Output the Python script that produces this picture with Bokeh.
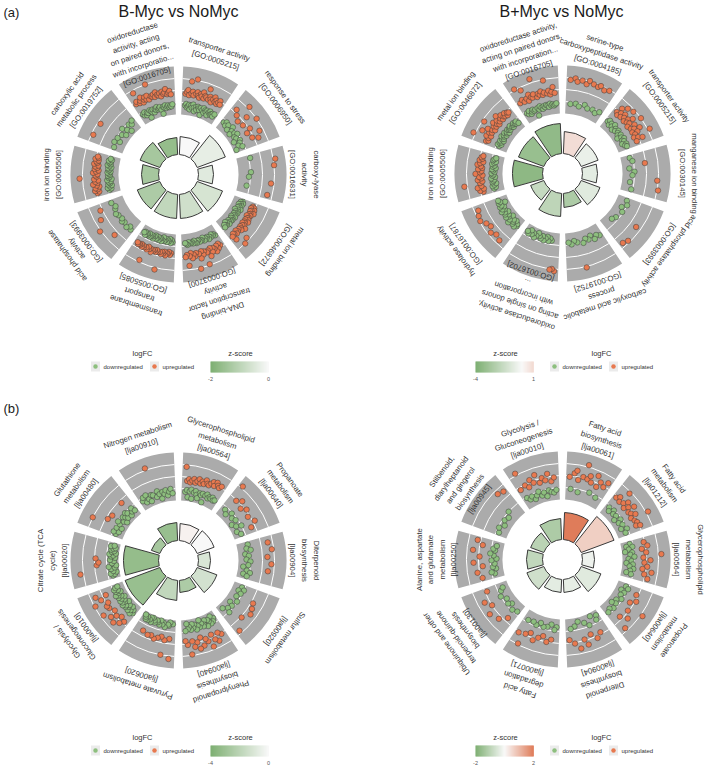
import math
from bokeh.plotting import figure
from bokeh.models import Range1d
from bokeh.embed import file_html
from bokeh.resources import INLINE
from bokeh.core.properties import value

# ---------------- data ----------------
A1_TERMS = ["transporter activity\n[GO:0005215]", "response to stress\n[GO:0006950]",
            "carboxy-lyase\nactivity\n[GO:0016831]", "metal ion binding\n[GO:0046872]",
            "DNA-binding\ntranscription factor\nactivity\n[GO:0003700]",
            "transmembrane\ntransport\n[GO:0055085]", "acid phosphatase\nactivity\n[GO:0003993]",
            "iron ion binding\n[GO:0005506]", "carboxylic acid\nmetabolic process\n[GO:0019752]",
            "oxidoreductase\nactivity, acting\non paired donors,\nwith incorporatio...\n[GO:0016705]"]
A1_Z = [0.0, -0.25, -0.35, -0.5, -0.6, -0.8, -1.1, -1.2, -1.2, -1.45]
A1_SIG = [9, 15, 7.5, 13.5, 12, 12, 12, 8.5, 10.5, 8.5]
A1_LFC = [
    [1.2, -1.1, 1.6, -0.8, 2.0, -1.5, 1.0, -1.2, 3.8, -0.9, 1.4, -1.8, 1.8, -1.0, 1.1, -1.4, 4.4, -0.7, 1.5, -1.3, 1.9, -2.0, 1.2, -1.1, 0.9, -1.6, 1.7, -0.9, 1.3, -1.2, 2.2, -1.5, 1.0, -1.0, 1.6, -2.4, 1.4, -1.3, 3.2, -0.8, 1.1, -1.7, 1.8, -1.1, 1.3, -1.4, 0.8, -1.0, 1.5, -1.9, 2.1, -1.2, 1.2, -0.9, 1.6, -1.5, 1.0, -1.3, 1.4, -1.1, 1.9, -1.6, 1.2, -1.0],
    [-1.2, 2.4, -0.8, -1.5, 1.6, -1.0, 4.6, -1.8, 0.9, -0.6, 2.8, -1.3, -2.0, 1.2, -1.1, 4.2, -0.7, -1.6, 2.0, -1.4, 1.0, -2.2, -0.9, 3.4, -1.2, 1.5, -1.7, 2.6, -1.0, -2.4],
    [-0.3, 4.6, 4.2, -0.5, -0.9, 3.6, -1.2, 3.2],
    [-1.0, 1.2, -1.4, 1.6, -0.8, 1.0, -1.2, 1.8, -1.6, 1.3, -0.9, 1.1, -1.3, 2.0, -1.1, 1.4, -1.5, 1.2, -0.7, 1.6, -1.2, 0.9, -1.8, 1.5, -1.0, 1.3, -1.4, 1.7, -0.9, 1.1, -1.2, 1.9, -1.5, 1.2, -1.0, 1.4, -1.3, 1.0, -0.8, 1.6, -1.6, 1.3, -1.1, 2.2, -1.4, 1.1, -0.9, 1.5, -1.2, 1.8, -1.0, 1.2, -1.5, 3.6, -1.1, 1.4, -0.8, 1.0, -1.3, 1.6, -1.7, 4.2, -1.0, 1.3, -1.2, 1.1, -1.4, 2.4, -0.9, 1.5],
    [-0.8, 1.4, -1.2, 0.9, -1.0, 1.8, -1.4, 1.1, -0.9, 2.2, -1.1, 1.5, -0.7, 1.2, -1.3, 1.9, -1.0, 1.0, -1.2, 2.6, -0.8, 1.3, -1.5, 1.6, -1.0, 4.0, -1.1, 1.2, -0.9, 1.8, -1.3, 1.0, -1.2, 2.4, -0.8, 1.4, -1.0, 4.4, -1.4, 1.1, -0.9, 1.7, -1.2, 1.3, -1.0, 2.0, -1.1, 0.9, -1.3, 1.5, -0.8, 3.4, -1.0, 1.2, -1.2, 1.6],
    [-1.4, 0.8, -1.8, 1.2, -1.2, 0.6, -2.0, 1.0, -1.5, 0.9, -1.7, 1.4, -1.3, 0.7, -1.9, 1.1, -1.6, 0.8, -1.4, 1.3, -2.1, 0.9, -1.5, 4.6, -1.2, 1.0, -1.8, 0.7, -1.6, 1.2, -1.3, 0.8, -1.9, 1.1, -1.5, 0.9, -1.4, 1.5, -2.0, 0.8, -1.7, 1.0, -1.2, 0.6, -1.6, 1.3, -1.8, 0.9, -1.5, 3.8, -1.3, 1.1, -1.9, 0.8, -1.4, 1.2, -1.7, 0.7, -1.5, 1.0, -1.2, 0.9, -1.8, 1.1, -1.6, 0.8],
    [-0.4, -0.8, -0.2, 2.6, -0.6, -0.3, -0.7, 4.4, -0.5, -0.2, 3.0, -0.6, -0.9, 2.2, -0.4],
    [1.6, -0.9, 1.2, -1.3, 2.0, -0.6, 1.4, -1.1, 1.8, -1.5, 1.0, -0.8, 1.5, -1.2, 2.2, -1.0, 1.3, -1.4, 1.7, -0.7, 1.1, -1.6, 1.9, -1.0, 4.8, -1.2, 1.4, -0.9, 1.6, -1.3, 1.2, -1.1, 2.1, -0.8, 1.5, -1.4, 1.0, -1.0, 1.8, -1.2, 1.3, -0.9, 1.7, -1.5, 1.1, -1.1, 2.0, -0.7, 1.4, -1.3, 1.6, -1.0, 1.2, -1.2, 1.9, -0.8, 1.3, -1.4, 1.5, -1.1],
    [-1.0, 3.8, -0.6, -1.6, -0.8, 3.6, -1.2, -1.9, -0.5, -1.4, -2.2, -0.9, -1.3, -0.7],
    [1.4, -1.0, 1.8, -1.4, 3.6, -0.8, 1.2, -1.6, 1.6, -1.1, 2.2, -1.3, 1.0, -2.4, 1.5, -0.9, 1.9, -1.2, 1.3, -1.5, 2.0, -1.0, 1.1, -1.7, 4.2, -1.1, 1.6, -1.3, 1.4, -0.8, 1.8, -1.4, 1.2, -1.2, 2.1, -1.0, 1.5, -1.6, 1.3, -2.6, 1.7, -1.1, 1.0, -1.3, 1.9, -0.9, 1.4, -1.5, 1.6, -1.2, 2.3, -1.0, 1.2, -1.4, 1.5, -1.1, 1.8, -1.3, 1.1, -0.9],
]

A2_TERMS = ["serine-type\ncarboxypeptidase activity\n[GO:0004185]", "transporter activity\n[GO:0005215]",
            "manganese ion binding\n[GO:0030145]", "acid phosphatase activity\n[GO:0003993]",
            "carboxylic acid metabolic\nprocess\n[GO:0019752]",
            "oxidoreductase activity,\nacting on single donors\nwith incorporation\n...\n[GO:0016702]",
            "hydrolase activity\n[GO:0016787]", "iron ion binding\n[GO:0005506]",
            "metal ion binding\n[GO:0046872]",
            "oxidoreductase activity,\nacting on paired donors,\nwith incorporation...\n[GO:0016705]"]
A2_Z = [0.8, -0.4, -0.6, -0.7, -2.2, -1.7, -1.5, -3.1, -2.8, -3.0]
A2_SIG = [11, 9, 7.5, 10, 7, 11.5, 7, 15, 13.5, 15]
A2_LFC = [
    [3.8, -1.0, 4.2, 3.6, -0.8, 4.0, -1.2, 3.5, 4.3, -0.6, 3.9, -1.1, 3.7, 4.1, -0.9, 3.6, -1.3, 4.0, -0.7],
    [-1.2, 1.4, -0.8, 2.6, 1.0, -1.6, 1.8, -1.0, 3.4, 1.2, -1.4, 2.2, -0.7, 1.6, -1.8, 3.8, 1.1, -1.1, 2.0, -1.5, 1.4, 2.8, -0.9, 1.7, -1.3, 1.0, 4.2, -1.6, 2.4, -1.0, 1.3, -2.0, 1.9, -1.2, 3.0, 1.2, -0.8, 2.2, -1.4, 1.5, -1.1, 4.6, 1.0, -1.7, 1.8, -0.9, 2.6, -1.3, 1.2, -1.0],
    [-1.2, -0.8, 1.6, -1.6, -0.6, -1.0, 4.0, -1.4, 4.4, -0.9],
    [-1.0, -0.6, -1.4, -0.8, 3.2, -1.2, -1.6, 3.8, 3.4],
    [-0.6, -1.0, -0.4, -1.4, -0.8, -1.2, -0.5, 4.4, -0.9, -1.3, -0.7, -1.1],
    [4.6, 4.2, 4.4, -1.4, -1.8, -1.2, -2.0, -1.6, -1.1, -1.9, -1.3, -1.7, -2.2, -1.5, -1.0, -1.8, -1.4, -2.1, -1.2, -1.6],
    [-1.0, -1.4, -0.6, 3.4, -1.8, -0.8, -1.2, -1.6, 3.0, -0.4, -1.0, -2.0, 3.6, -1.2, -0.7, -1.5, 2.8, -0.9, -1.8, -1.1, 3.2, -0.6, -1.4, -1.0, 4.0, -1.6, -0.8, -1.2, 3.8, -2.2, -0.9, -1.3, 3.4, -1.0],
    [1.2, -1.0, 1.8, -1.4, 1.0, -0.8, 2.2, -1.2, 1.4, -1.6, 4.8, -0.9, 1.6, -1.1, 1.1, -1.3, 2.0, -0.7, 1.3, -1.5, 1.7, -1.0, 1.0, -1.2, 2.4, -0.8, 1.5, -1.4, 1.2, -1.1, 1.9, -0.9, 1.1, -1.6, 1.4, -1.0, 2.1, -1.3, 1.6, -0.8, 1.0, -1.2, 1.8, -1.5, 1.3, -0.9, 1.5, -1.1, 1.2, -1.4],
    [1.6, -1.2, 1.2, -0.8, 4.6, -1.5, 1.4, -1.0, 2.0, -1.3, 1.1, -0.9, 3.2, -1.6, 1.8, -1.1, 1.3, -1.4, 2.4, -0.7, 1.5, -1.2, 1.0, -1.0, 3.8, -1.5, 1.7, -0.8, 1.2, -1.3, 2.2, -1.1, 1.4, -1.6, 1.0, -0.9, 1.9, -1.2, 1.3, -1.4, 2.6, -1.0, 1.6, -0.8, 1.1, -1.3, 2.0, -1.5, 1.4, -1.1, 1.2, -0.9, 1.8, -1.2, 1.0, -1.4, 1.5, -1.0, 1.3, -1.6],
    [1.4, -1.0, 4.4, -1.4, 1.8, -0.8, 1.2, -1.6, 3.6, -1.2, 1.6, -0.9, 1.0, -1.3, 2.2, -1.1, 1.5, -2.6, 1.3, -1.0, 1.9, -1.4, 5.0, -0.8, 1.1, -1.2, 1.7, -1.5, 1.4, -1.0, 2.0, -1.3, 1.2, -0.9, 1.6, -1.1, 4.0, -1.4, 1.3, -0.8, 1.8, -1.2, 1.0, -1.0, 1.5, -1.3, 2.4, -1.1, 1.2, -0.9],
]

B1_TERMS = ["Glycerophospholipid\nmetabolism\n[lja00564]", "Propanoate\nmetabolism\n[lja00640]",
            "Diterpenoid\nbiosynthesis\n[lja00904]", "Sulfur metabolism\n[lja00920]",
            "Phenylpropanoid\nbiosynthesis\n[lja00940]", "Pyruvate metabolism\n[lja00620]",
            "Glycolysis /\nGluconeogenesis\n[lja00010]", "Citrate cycle (TCA\ncycle)\n[lja00020]",
            "Glutathione\nmetabolism\n[lja00480]", "Nitrogen metabolism\n[lja00910]"]
B1_Z = [0.2, 0.0, -0.9, -1.1, -2.2, -1.6, -2.8, -2.9, -2.4, -2.8]
B1_SIG = [8.5, 9, 6, 10.5, 6, 10, 18.5, 17.5, 4.5, 9]
B1_LFC = [
    [3.8, -1.2, 1.0, -0.8, 1.4, -2.2, 0.8, -1.0, 1.2, -0.6, 1.6, -2.4, 0.9, -1.1, 1.3, -0.7, 1.8, -1.4, 1.0, -2.0, 1.5, -0.9, 1.1, -1.2, 2.0, -0.8, 1.4, -2.5, 1.2, -1.0, 1.7, -0.6, 2.2, -1.3, 1.5, -0.9, 2.4, -1.1, 1.9, -0.7, 1.6, -1.2, 2.1, -1.0],
    [4.6, -1.2, 1.6, -1.8, 2.4, -0.8, 1.2, -1.4, 2.0, -1.0, -2.2, 1.4, -1.6, -0.6, 2.2, -2.0, 1.0, -1.4],
    [-0.8, 3.2, -1.2, -0.4, 3.8, -1.6, -0.9, 2.8, -1.4, -0.6, 3.6, -1.0, -2.0, 3.0, -1.2, -0.5, -1.8, -1.0],
    [-1.2, -0.6, -1.6, -0.9, 2.2, -1.4, 2.6, -0.7, 3.0, -1.8, -1.0, 2.0, -1.3, -0.5, -2.0, 3.6],
    [-1.6, 2.0, -1.0, -2.2, 1.4, -0.8, 3.0, -1.4, -1.8, 2.4, -0.6, 1.2, -2.0, 3.6, -1.2, -0.9, 2.2, -1.6, 1.6, -2.4, -1.0, 2.8, -1.4, 1.0, -0.7, 3.2, -1.8, 1.8, -1.2, -2.0, 2.6, -0.9, 1.4, -1.5, 4.0, -1.1, -2.2, 2.0, -0.8, 1.2],
    [-2.2, 4.8, 0.8, -2.6, -1.8, -2.0, 1.2, 4.2, -1.4, 0.6, -2.2, -1.8, 1.0, -2.6, -1.6, 1.4, -2.0, -2.3, 0.9, -1.7, -2.1, 1.1, -2.5, -1.5, -2.4, -1.9, 0.7, -1.6, -2.2, -1.6, -2.0, -2.4],
    [-1.0, 1.4, -1.6, -0.6, 2.2, -1.2, -2.0, 1.0, -0.8, 3.0, -1.4, -1.8, 1.6, -0.9, -1.2, 2.6, -2.2, -0.7, 1.2, -1.5, -1.0, 3.6, -1.7, -0.8, 1.8, -1.3, -2.1, 2.0, -0.9, -1.6, 1.4, -1.1, -0.6, 4.0, -1.4, -1.9, 2.4, -1.0, -1.5, 1.1, -0.8, 3.2, -1.2, -1.7],
    [-1.6, -2.0, -1.2, -2.4, -1.8, 4.8, -1.4, -2.2, -1.0, -2.6, 1.4, -1.7, 1.0, -2.1, -1.3, 1.6, -2.3, -1.5, -1.9, -1.1, -2.4, -1.6, -2.0, -1.4, -1.8, -2.2, -1.2, -1.9],
    [-1.4, -0.8, -1.8, 4.2, -1.0, -2.0, 1.4, -1.2, -0.6, 1.0, -1.6, -2.2, -0.9, -1.3, -1.8, -0.7, -1.1, -2.0, 1.2, -1.5, -0.9, -1.7],
    [-1.2, -0.6, -1.8, -0.4, -1.4, -2.0, -0.8, -1.0, 4.6, -1.6, -0.5, -1.2, -2.2, -0.9, -1.4, -0.7, -1.8, -1.1, -0.6, -1.5],
]

B2_TERMS = ["Fatty acid\nbiosynthesis\n[lja00061]", "Fatty acid\nmetabolism\n[lja01212]",
            "Glycerophospholipid\nmetabolism\n[lja00564]", "Propanoate\nmetabolism\n[lja00640]",
            "Diterpenoid\nbiosynthesis\n[lja00904]", "Fatty acid\ndegradation\n[lja00071]",
            "Ubiquinone and other\nterpenoid-quinone\nbiosynthesis\n[lja00130]",
            "Alanine, aspartate\nand glutamate\nmetabolism\n[lja00250]",
            "Stilbenoid,\ndiarylheptanoid\nand gingerol\nbiosynthesis\n[lja00945]",
            "Glycolysis /\nGluconeogenesis\n[lja00010]"]
B2_Z = [1.8, 0.6, -0.15, -0.35, -0.25, -0.3, -0.6, -0.8, -0.9, -1.1]
B2_SIG = [13.5, 17.5, 6, 10.5, 6.5, 6.5, 9, 8, 7, 10.5]
B2_LFC = [
    [1.6, -0.8, 2.4, 3.0, 1.2, -1.2, 2.0, 4.6, 1.8, 2.6, 1.4, -0.6, 3.2, 1.0, 2.2, -1.0, 1.6, 2.8],
    [1.4, -1.0, 2.0, -1.6, 1.2, 3.8, -0.8, 1.6, -1.4, 2.4, 1.0, -1.2, 1.8, -2.0, 2.8, 1.2, -0.9, 1.5, -1.6, 2.2, 1.0, -1.1, 4.6, 1.4, -1.8, 1.7, -0.7, 1.2, 2.0, -1.3],
    [-1.2, 1.6, -2.0, -0.8, 2.2, -1.6, 1.0, -2.4, -1.0, 1.8, -1.4, 4.8, -0.6, 1.2, -1.8, 2.6, -1.2, 1.4, -2.2, -0.9, 2.0, -1.5, 1.1, -0.7, 3.0, -1.3, 1.6, -2.0, -1.0, 2.4],
    [-1.2, -0.6, 1.4, -1.8, -1.0, 2.0, -1.4, 1.0, -0.8, 4.6, -1.6, 1.6, -1.2, -2.0, 2.6, -0.9, 1.2, -1.4, 3.6, -1.0],
    [-2.0, -1.2, 1.4, -2.4, 2.2, -0.8, 1.0, -1.6, 2.8, 1.6, -2.2, 3.2, -1.4, 2.0, -1.0, 1.2],
    [-1.4, -0.8, 1.2, -1.8, 1.8, -1.2, 0.8, -1.0, 1.4, -1.6, 2.2, -0.9, 1.0, -1.3, 1.6, 4.0, -1.1, 2.0],
    [-1.2, 1.0, -0.8, 2.4, -1.6, -1.0, 3.2, -1.4, 1.8, -0.6, 2.8, -1.2, -1.8, 1.4],
    [1.4, -1.2, -0.6, 2.2, -1.6, -1.0, 1.0, -1.4, 2.8, -0.8, -1.8, 1.6, -1.2, -0.5, 3.0, -1.4, -1.0, 1.2, -1.6, 2.4],
    [-1.2, -0.8, -1.6, -1.0, -1.4, -0.6, 3.4, 3.0],
    [1.2, -0.8, 4.6, -1.4, 1.6, -1.0, 0.9, -1.8, 2.2, -1.2, 1.4, -0.6, 2.8, -1.6, 1.0, -1.1, 1.8, -2.0, 1.2, -0.9, 2.4, -1.3, 0.8, -1.5, 1.5, -1.0],
]

PANEL_TITLES = ["B-Myc vs NoMyc", "B+Myc vs NoMyc"]
ZLIMS = [(-2, 0), (-4, 1), (-4, 0), (-2, 2)]
ZSCALE = [2, 4, 4, 2]

# ---------------- styling / layout ----------------
W, H = 709, 766
FONT = value("Liberation Sans")
GRAY = "#ababab"
UP_COL = "#e8794f"
DOWN_COL = "#8dbf7e"
LOW = (0x6f, 0xa6, 0x62)
MID = (0xf8, 0xf8, 0xf8)
HIGH = (0xdc, 0x6e, 0x48)

R_HOLE, R_IN, R_OUT, R_LAB, LINE_H = 20.0, 60.0, 108.0, 126.0, 11.6
HALF = math.radians(15.5)
SPREAD = math.radians(13.0)


def X(x):
    return x


def Y(y):
    return H - y


def zcolor(z, m):
    t = max(-1.0, min(1.0, z / m))
    end = LOW if t < 0 else HIGH
    t = abs(t)
    return "#%02x%02x%02x" % tuple(int(round(MID[i] + (end[i] - MID[i]) * t)) for i in range(3))


def lfc_radius(v):
    return max(R_IN + 2.5, min(R_OUT - 2.5, 75.0 + 5.0 * v))


p = figure(width=W, height=H, x_range=Range1d(0, W), y_range=Range1d(0, H),
           output_backend="svg", toolbar_location=None, min_border=0,
           x_axis_location=None, y_axis_location=None)
p.grid.visible = False
p.outline_line_color = None

panels = [
    dict(terms=A1_TERMS, z=A1_Z, sig=A1_SIG, lfc=A1_LFC, c=(178, 174), lx=142, zx=240, ly=353),
    dict(terms=A2_TERMS, z=A2_Z, sig=A2_SIG, lfc=A2_LFC, c=(562, 173), lx=601, zx=505, ly=353),
    dict(terms=B1_TERMS, z=B1_Z, sig=B1_SIG, lfc=B1_LFC, c=(178, 560), lx=142, zx=240, ly=737),
    dict(terms=B2_TERMS, z=B2_Z, sig=B2_SIG, lfc=B2_LFC, c=(562, 559), lx=601, zx=505, ly=737),
]

for pi, P in enumerate(panels):
    cx, cy = X(P["c"][0]), Y(P["c"][1])
    n = len(P["terms"])
    thetas = [math.radians(72 - 36 * i) for i in range(n)]
    # outer gray sectors
    p.annular_wedge(x=[cx] * n, y=[cy] * n, inner_radius=R_IN, outer_radius=R_OUT,
                    start_angle=[t - HALF for t in thetas], end_angle=[t + HALF for t in thetas],
                    fill_color=GRAY, line_color=None)
    for frac in (0.25, 0.5, 0.75):
        p.arc(x=[cx] * n, y=[cy] * n, radius=R_IN + frac * (R_OUT - R_IN),
              start_angle=[t - HALF for t in thetas], end_angle=[t + HALF for t in thetas],
              line_color="white", line_width=1)
    # gene points
    xs, ys, cols = [], [], []
    for t, vals in zip(thetas, P["lfc"]):
        m = len(vals)
        for k, v in enumerate(vals):
            a = t + SPREAD - 2 * SPREAD * k / (m - 1) if m > 1 else t
            r = lfc_radius(v)
            xs.append(cx + r * math.cos(a))
            ys.append(cy + r * math.sin(a))
            cols.append(UP_COL if v > 0 else DOWN_COL)
    p.scatter(x=xs, y=ys, size=5.5, fill_color=cols, line_color="#3d3d3d", line_width=0.5)
    # inner bars
    p.annular_wedge(x=[cx] * n, y=[cy] * n, inner_radius=R_HOLE,
                    outer_radius=[R_HOLE + 2 * s for s in P["sig"]],
                    start_angle=[t - HALF for t in thetas], end_angle=[t + HALF for t in thetas],
                    fill_color=[zcolor(z, ZSCALE[pi]) for z in P["z"]],
                    line_color="#3a3a3a", line_width=1)
    # labels, one text per line, stacked radially (first line outermost)
    lx_, ly_, lt_, la_ = [], [], [], []
    for t, term in zip(thetas, P["terms"]):
        lines = term.split("\n")
        L = len(lines)
        for k, line in enumerate(lines):
            r = R_LAB + ((L - 1) / 2.0 - k) * LINE_H
            lx_.append(cx + r * math.cos(t))
            ly_.append(cy + r * math.sin(t))
            lt_.append(line)
            la_.append(t - math.pi / 2)
    p.text(x=lx_, y=ly_, text=lt_, angle=la_, text_align="center", text_baseline="middle",
           text_font=FONT, text_font_size="7.8px", text_color="#333333")

    # ---- legends ----
    ly = P["ly"]
    lx = P["lx"]
    p.text(x=[X(lx)], y=[Y(ly)], text=["logFC"], text_align="center", text_baseline="middle",
           text_font=FONT, text_font_size="7.5px", text_color="#333333")
    key_y = Y(ly + 13)
    p.rect(x=[X(lx - 47), X(lx + 12)], y=[key_y, key_y], width=9, height=10,
           fill_color="#ebebeb", line_color=None)
    p.scatter(x=[X(lx - 47), X(lx + 12)], y=[key_y, key_y], size=4.5,
              fill_color=[DOWN_COL, UP_COL], line_color=None)
    p.text(x=[X(lx - 39), X(lx + 20)], y=[key_y, key_y], text=["downregulated", "upregulated"],
           text_align="left", text_baseline="middle", text_font=FONT,
           text_font_size="6px", text_color="#333333")
    zx = P["zx"]
    p.text(x=[X(zx)], y=[Y(ly)], text=["z-score"], text_align="center", text_baseline="middle",
           text_font=FONT, text_font_size="7.5px", text_color="#333333")
    zmin, zmax = ZLIMS[pi]
    x0, x1 = X(zx - 30), X(zx + 28)
    nseg = 58
    lefts = [x0 + (x1 - x0) * k / nseg for k in range(nseg)]
    rights = [x0 + (x1 - x0) * (k + 1) / nseg + 0.3 for k in range(nseg)]
    segcols = [zcolor(zmin + (zmax - zmin) * (k + 0.5) / nseg, ZSCALE[pi]) for k in range(nseg)]
    p.quad(left=lefts, right=rights, bottom=Y(ly + 19), top=Y(ly + 8), fill_color=segcols, line_color=None)
    p.text(x=[x0, x1], y=[Y(ly + 25), Y(ly + 25)], text=["%g" % zmin, "%g" % zmax],
           text_align="center", text_baseline="middle", text_font=FONT,
           text_font_size="5.5px", text_color="#555555")

# titles and panel tags
p.text(x=[X(178), X(561)], y=[Y(11), Y(11)], text=PANEL_TITLES, text_align="center",
       text_baseline="middle", text_font=FONT, text_font_size="16px", text_color="#1a1a1a")
p.text(x=[X(3), X(3)], y=[Y(12), Y(408)], text=["(a)", "(b)"], text_align="left",
       text_baseline="middle", text_font=FONT, text_font_size="13px", text_color="#1a1a1a")

open("out.html", "w").write(file_html(p, INLINE))
